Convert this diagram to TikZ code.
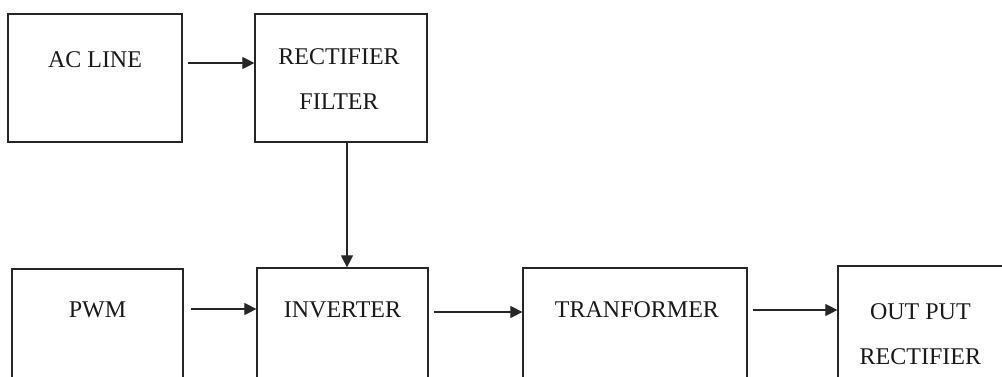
\documentclass[tikz,border=0pt]{standalone}
\usepackage{fontspec}
\setmainfont{Liberation Serif}
\usetikzlibrary{arrows.meta}
\tikzset{
  blk/.style={draw=black!85, line width=1.2pt, rectangle, inner sep=0pt},
  lbl/.style={font=\fontsize{24}{45}\selectfont, text=black!90, anchor=base, align=center, inner sep=0pt},
  arr/.style={draw=black!85, line width=1.1pt, -{Triangle[length=12pt,width=12pt]}}
}
\begin{document}
\begin{tikzpicture}[x=1pt,y=-1pt]
\useasboundingbox (0,0) rectangle (1002,376);
\clip (0,0) rectangle (1002,376);
% boxes
\node[blk, minimum width=174pt, minimum height=128pt] (ac) at (95,78) {};
\node[blk, minimum width=172pt, minimum height=128pt] (rf) at (341,78) {};
\node[blk, minimum width=171pt, minimum height=150pt] (pwm) at (97.5,344) {};
\node[blk, minimum width=171pt, minimum height=150pt] (inv) at (342.5,343) {};
\node[blk, minimum width=224pt, minimum height=150pt] (tr) at (635,343) {};
\node[blk, minimum width=180pt, minimum height=150pt] (out) at (928,341) {};
% labels
\node[lbl] (tac) at ([yshift=-54pt]ac.north) {AC LINE};
\node[lbl] (trf) at ([xshift=-2pt,yshift=-96pt]rf.north) {RECTIFIER\\FILTER};
\node[lbl] (tpwm) at ([yshift=-49pt]pwm.north) {PWM};
\node[lbl] (tinv) at ([yshift=-50pt]inv.north) {INVERTER};
\node[lbl] (ttr) at ([xshift=2pt,yshift=-50pt]tr.north) {TRANFORMER};
\node[lbl] (tout) at ([xshift=83pt,yshift=-99pt]out.north west) {OUT PUT\\RECTIFIER};
% connectors
\draw[arr] ([xshift=5pt,yshift=15pt]ac.east) -- ([yshift=15pt]rf.west);
\draw[arr] ([xshift=6pt]rf.south) -- ([xshift=4.5pt]inv.north);
\draw[arr] ([xshift=7pt,yshift=35pt]pwm.east) -- ([yshift=34pt]inv.west);
\draw[arr] ([xshift=5pt,yshift=31pt]inv.east) -- ([yshift=31pt]tr.west);
\draw[arr] ([xshift=5pt,yshift=33pt]tr.east) -- ([yshift=31pt]out.west);
\end{tikzpicture}
\end{document}
